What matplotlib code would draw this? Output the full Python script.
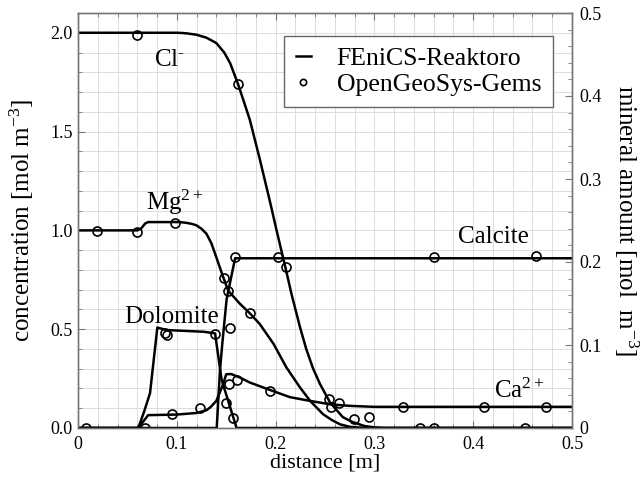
import numpy as np
import matplotlib.pyplot as plt
from matplotlib.ticker import MultipleLocator

plt.rcParams['font.family'] = ['Liberation Serif', 'DejaVu Serif']
plt.rcParams['mathtext.fontset'] = 'custom'
plt.rcParams['mathtext.rm'] = 'Liberation Serif'
plt.rcParams['mathtext.it'] = 'Liberation Serif:italic'

# tick labels
x_ticks = [0, 0.1, 0.2, 0.3, 0.4, 0.5]
x_labels = ['0', '0.1', '0.2', '0.3', '0.4', '0.5']
yl_ticks = [0, 0.5, 1.0, 1.5, 2.0]
yl_labels = ['0.0', '0.5', '1.0', '1.5', '2.0']
yr_ticks = [0, 0.1, 0.2, 0.3, 0.4, 0.5]
yr_labels = ['0', '0.1', '0.2', '0.3', '0.4', '0.5']

# FEniCS-Reaktoro lines (concentrations, left axis)
cl_x = [0, 0.10, 0.105, 0.11, 0.12, 0.13, 0.14, 0.148, 0.154, 0.162, 0.168, 0.174,
        0.184, 0.194, 0.201, 0.2105, 0.216, 0.2247, 0.231, 0.238, 0.245, 0.255,
        0.268, 0.278, 0.29, 0.30, 0.31, 0.5]
cl_y = [2.0, 2.0, 1.999, 1.997, 1.99, 1.975, 1.948, 1.90, 1.846, 1.74, 1.65, 1.558,
        1.36, 1.152, 1.0, 0.80, 0.68, 0.51, 0.40, 0.30, 0.222, 0.13,
        0.055, 0.03, 0.01, 0.003, 0.0, 0.0]

mg_x = [0, 0.06, 0.064, 0.068, 0.071, 0.103, 0.110, 0.116, 0.120, 0.125, 0.130, 0.135,
        0.140, 0.147, 0.152, 0.164, 0.174, 0.184, 0.198, 0.211, 0.2247, 0.235, 0.248,
        0.257, 0.265, 0.275, 0.29, 0.5]
mg_y = [1.0, 1.0, 1.01, 1.035, 1.042, 1.042, 1.038, 1.032, 1.025, 1.008, 0.983, 0.935,
        0.864, 0.763, 0.695, 0.628, 0.58, 0.526, 0.425, 0.306, 0.205, 0.137, 0.07,
        0.04, 0.019, 0.006, 0.0, 0.0]

ca_x = [0, 0.061, 0.071, 0.10, 0.12, 0.13, 0.134, 0.140, 0.147, 0.150, 0.155, 0.164,
        0.174, 0.194, 0.2146, 0.235, 0.255, 0.275, 0.30, 0.5]
ca_y = [0.0, 0.0, 0.065, 0.068, 0.076, 0.09, 0.105, 0.137, 0.222, 0.272, 0.273, 0.255,
        0.23, 0.193, 0.156, 0.137, 0.12, 0.112, 0.107, 0.107]

# FEniCS-Reaktoro lines (minerals, right axis)
dol_x = [0, 0.061, 0.067, 0.0729, 0.0803, 0.0897, 0.127, 0.1387, 0.1454, 0.1605, 0.5]
dol_y = [0.0, 0.0, 0.02, 0.042, 0.121, 0.118, 0.116, 0.114, 0.058, 0.0, 0.0]

cal_x = [0, 0.1404, 0.1437, 0.1464, 0.1504, 0.159, 0.2, 0.5]
cal_y = [0.0, 0.0, 0.07, 0.106, 0.155, 0.2045, 0.2045, 0.2045]

# OpenGeoSys-Gems points
cl_pts_x = [0.0593, 0.162, 0.2105, 0.2544]
cl_pts_y = [1.99, 1.74, 0.817, 0.146]
mg_pts_x = [0.0189, 0.0594, 0.0982, 0.1478, 0.152, 0.174, 0.264, 0.279, 0.2945]
mg_pts_y = [0.996, 0.991, 1.039, 0.76, 0.692, 0.58, 0.128, 0.047, 0.057]
ca_pts_x = [0.0949, 0.1235, 0.153, 0.161, 0.194, 0.2558, 0.329, 0.411, 0.474]
ca_pts_y = [0.069, 0.103, 0.225, 0.244, 0.188, 0.108, 0.107, 0.107, 0.107]
zero_pts_x = [0.008, 0.068, 0.346, 0.36, 0.452]
zero_pts_y = [0.0, 0.0, 0.0, 0.0, 0.0]
cal_pts_x = [0.1538, 0.159, 0.2028, 0.3606, 0.464]
cal_pts_y = [0.121, 0.2057, 0.2064, 0.2064, 0.207]
dol_pts_x = [0.088, 0.0898, 0.1387, 0.150, 0.157]
dol_pts_y = [0.114, 0.112, 0.113, 0.030, 0.0117]

fig = plt.figure(figsize=(6.41, 4.79), dpi=100)
ax = fig.add_axes([78/641, 1-428/479, 494/641, 415/479])
ax2 = ax.twinx()

lw = 1.8
mk = dict(ls='none', marker='o', mfc='none', mec='black', ms=6.5, mew=1.2)

ax.plot(cl_x, cl_y, color='black', lw=lw)
ax.plot(mg_x, mg_y, color='black', lw=lw)
ax.plot(ca_x, ca_y, color='black', lw=lw)
ax.plot(cl_pts_x, cl_pts_y, **mk)
ax.plot(mg_pts_x, mg_pts_y, **mk)
ax.plot(ca_pts_x, ca_pts_y, **mk)
ax.plot(zero_pts_x, zero_pts_y, **mk)

ax2.plot(dol_x, dol_y, color='black', lw=lw)
ax2.plot(cal_x, cal_y, color='black', lw=lw)
ax2.plot(cal_pts_x, cal_pts_y, **mk)
ax2.plot(dol_pts_x, dol_pts_y, **mk)

ax.set_xlim(0, 0.5)
ax.set_ylim(0, 2.1)
ax2.set_ylim(0, 0.5)

ax.set_xticks(x_ticks, x_labels)
ax.set_yticks(yl_ticks, yl_labels)
ax2.set_yticks(yr_ticks, yr_labels)
ax.xaxis.set_minor_locator(MultipleLocator(0.02))
ax.yaxis.set_minor_locator(MultipleLocator(0.1))
ax2.yaxis.set_minor_locator(MultipleLocator(0.02))

ax.grid(True, which='both', color='#dcdcdc', lw=0.7)
ax.set_axisbelow(True)

ax.tick_params(which='both', direction='in', top=True, right=False, labelsize=13,
               color='#777777', pad=4)
ax.tick_params(axis='x', which='major', pad=6)
ax.tick_params(which='major', length=5)
ax.tick_params(which='minor', length=3)
ax2.tick_params(which='both', direction='in', labelsize=13, color='#777777', pad=5)
ax2.tick_params(which='major', length=5)
ax2.tick_params(which='minor', length=3)
for a in (ax, ax2):
    for s in a.spines.values():
        s.set_color('#777777')
        s.set_linewidth(1.0)

ax.set_xlabel('distance [m]', fontsize=16)
ax.xaxis.set_label_coords(0.5, -0.061)
ax.set_ylabel('concentration [mol m$^{-3}$]', fontsize=18, va='center')
ax.yaxis.set_label_coords(-0.113, 0.5)
ax2.set_ylabel('mineral amount [mol  m$^{-3}$]', fontsize=18, rotation=-90, va='center')
ax2.yaxis.set_label_coords(1.109, 0.5)

ax.text(0.093, 1.863, r'Cl$^{\text{-}}$', fontsize=18, ha='center', va='center')
ax.text(0.098, 1.142, 'Mg$^{2+}$', fontsize=18, ha='center', va='center')
ax.text(0.095, 0.563, 'Dolomite', fontsize=18, ha='center', va='center')
ax.text(0.42, 0.964, 'Calcite', fontsize=18, ha='center', va='center')
ax.text(0.446, 0.188, 'Ca$^{2+}$', fontsize=18, ha='center', va='center')

h1, = ax.plot([], [], color='black', lw=lw)
h2, = ax.plot([], [], ls='none', marker='o', mfc='none', mec='black', ms=4.5, mew=1.2)
leg = ax.legend([h1, h2], ['FEniCS-Reaktoro', 'OpenGeoSys-Gems'], loc='upper right',
                bbox_to_anchor=(0.961, 0.945), borderaxespad=0, fontsize=18.5,
                handlelength=0.6, handletextpad=1.0, borderpad=0.45, labelspacing=0.1,
                fancybox=False, framealpha=1, edgecolor='#666666')
leg.get_frame().set_linewidth(1.0)
leg.set_zorder(5)

fig.savefig('out.png', dpi=100)
